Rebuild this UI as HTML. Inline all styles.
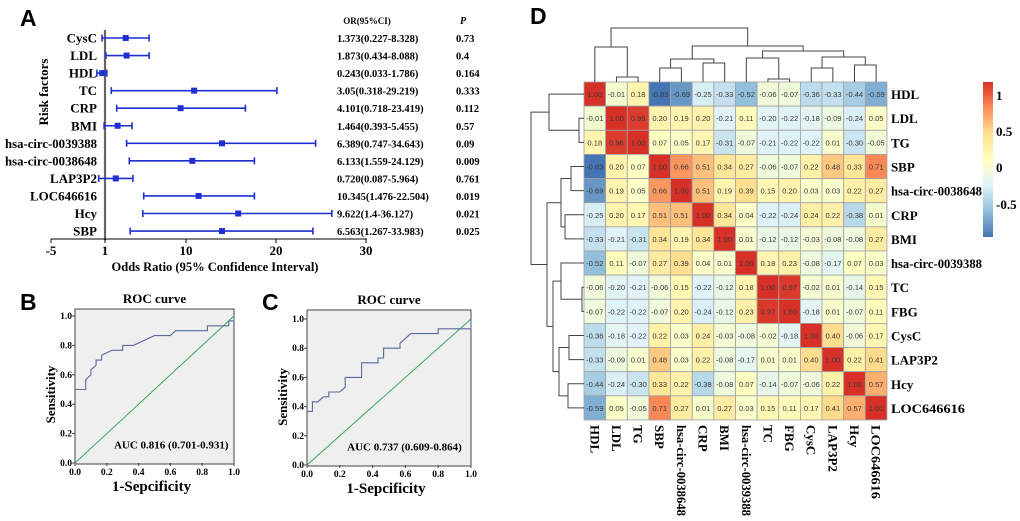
<!DOCTYPE html>
<html><head><meta charset="utf-8">
<style>
html,body{margin:0;padding:0;background:#fff;}
svg{display:block;}
.s{font-family:"Liberation Serif",serif;font-weight:bold;}
.p{font-family:"Liberation Sans",sans-serif;font-weight:bold;font-size:23px;}
</style></head>
<body>
<svg id="fig" width="1020" height="521" viewBox="0 0 1020 521" xmlns="http://www.w3.org/2000/svg">
<text class="p" x="20" y="26">A</text>
<text class="p" x="20" y="310">B</text>
<text class="p" x="262" y="310">C</text>
<text class="p" x="530" y="24">D</text>
<g id="forest"></g>
<g id="rocB"></g>
<g id="rocC"></g>
<g id="heat"></g>
</svg>
<script>
// ---------- Forest data ----------
const factors = ["CysC","LDL","HDL","TC","CRP","BMI","hsa-circ-0039388","hsa-circ-0038648","LAP3P2","LOC646616","Hcy","SBP"];
const orPoint = [3.3,3.4,0.7,10.9,9.4,2.4,14.0,10.7,2.2,11.4,15.8,14.0];
const orLow = [0.67,1.1,0.1,1.7,2.3,0.9,3.4,3.7,0.3,5.3,5.2,3.8];
const orHigh = [5.9,5.9,1.2,20.1,16.6,4.0,24.4,17.6,4.1,17.6,26.2,24.1];
const orText = ["1.373(0.227-8.328)","1.873(0.434-8.088)","0.243(0.033-1.786)","3.05(0.318-29.219)","4.101(0.718-23.419)","1.464(0.393-5.455)","6.389(0.747-34.643)","6.133(1.559-24.129)","0.720(0.087-5.964)","10.345(1.476-22.504)","9.622(1.4-36.127)","6.563(1.267-33.983)"];
const pText = ["0.73","0.4","0.164","0.333","0.112","0.57","0.09","0.009","0.761","0.019","0.021","0.025"];
const forestTicks = [-5,1,10,20,30];

// ---------- ROC data ----------
const rocBx = [0,0.067,0.067,0.1,0.1,0.133,0.133,0.167,0.167,0.233,0.3,0.3,0.367,0.5,0.6,0.633,0.833,0.833,0.967,0.967,1,1];
const rocBy = [0.5,0.5,0.567,0.6,0.633,0.667,0.7,0.7,0.733,0.767,0.767,0.8,0.8,0.867,0.867,0.9,0.9,0.933,0.933,0.967,0.967,1];
const rocCx = [0,0.033,0.033,0.067,0.1,0.133,0.133,0.2,0.233,0.233,0.333,0.333,0.433,0.433,0.467,0.467,0.567,0.567,0.633,0.8,0.8,1,1];
const rocCy = [0.367,0.367,0.433,0.433,0.467,0.467,0.5,0.5,0.533,0.6,0.6,0.7,0.7,0.733,0.733,0.8,0.8,0.833,0.9,0.9,0.933,0.933,1];
const rocTicks = [0,0.2,0.4,0.6,0.8,1.0];

// ---------- Heatmap data ----------
const vars = ["HDL","LDL","TG","SBP","hsa-circ-0038648","CRP","BMI","hsa-circ-0039388","TC","FBG","CysC","LAP3P2","Hcy","LOC646616"];
const r0 = [1,-0.01,0.18,-0.83,-0.69,-0.25,-0.33,-0.52,-0.06,-0.07,-0.36,-0.33,-0.44,-0.59];
const r1 = [-0.01,1,0.96,0.20,0.19,0.20,-0.21,0.11,-0.20,-0.22,-0.18,-0.09,-0.24,0.05];
const r2 = [0.18,0.96,1,0.07,0.05,0.17,-0.31,-0.07,-0.21,-0.22,-0.22,0.01,-0.30,-0.05];
const r3 = [-0.83,0.20,0.07,1,0.66,0.51,0.34,0.27,-0.06,-0.07,0.22,0.48,0.33,0.71];
const r4 = [-0.69,0.19,0.05,0.66,1,0.51,0.19,0.39,0.15,0.20,0.03,0.03,0.22,0.27];
const r5 = [-0.25,0.20,0.17,0.51,0.51,1,0.34,0.04,-0.22,-0.24,0.24,0.22,-0.38,0.01];
const r6 = [-0.33,-0.21,-0.31,0.34,0.19,0.34,1,0.01,-0.12,-0.12,-0.03,-0.08,-0.08,0.27];
const r7 = [-0.52,0.11,-0.07,0.27,0.39,0.04,0.01,1,0.18,0.23,-0.08,-0.17,0.07,0.03];
const r8 = [-0.06,-0.20,-0.21,-0.06,0.15,-0.22,-0.12,0.18,1,0.97,-0.02,0.01,-0.14,0.15];
const r9 = [-0.07,-0.22,-0.22,-0.07,0.20,-0.24,-0.12,0.23,0.97,1,-0.18,0.01,-0.07,0.11];
const r10 = [-0.36,-0.18,-0.22,0.22,0.03,0.24,-0.03,-0.08,-0.02,-0.18,1,0.40,-0.06,0.17];
const r11 = [-0.33,-0.09,0.01,0.48,0.03,0.22,-0.08,-0.17,0.01,0.01,0.40,1,0.22,0.41];
const r12 = [-0.44,-0.24,-0.30,0.33,0.22,-0.38,-0.08,0.07,-0.14,-0.07,-0.06,0.22,1,0.57];
const r13 = [-0.59,0.05,-0.05,0.71,0.27,0.01,0.27,0.03,0.15,0.11,0.17,0.41,0.57,1];
const corr = [r0,r1,r2,r3,r4,r5,r6,r7,r8,r9,r10,r11,r12,r13];
const cbTicks = [1,0.5,0,-0.5];

const NS="http://www.w3.org/2000/svg";
function mk(parent,tag,attrs,txt){const e=document.createElementNS(NS,tag);for(const k in attrs)e.setAttribute(k,attrs[k]);if(txt!==undefined)e.textContent=txt;parent.appendChild(e);return e;}

// ===== Forest =====
(function(){
  const g=document.getElementById('forest');
  const X=v=>105+(v-1)*9;
  const Y=i=>38+i*17.55;
  mk(g,'line',{x1:X(1),x2:X(1),y1:30,y2:240,stroke:'#666','stroke-width':2.2});
  const ax=mk(g,'line',{x1:51,x2:367,y1:239,y2:239,stroke:'#000','stroke-width':1});
  
  
  forestTicks.forEach(t=>{
    mk(g,'line',{x1:X(t),x2:X(t),y1:239,y2:243,stroke:'#000'});
    const tl=mk(g,'text',{x:X(t),y:255,'text-anchor':'middle','font-size':13,class:'s'},String(t));
    
    
  });
  const xt=mk(g,'text',{x:215,y:271,'text-anchor':'middle','font-size':12.5,class:'s'},'Odds Ratio (95% Confidence Interval)');
  
  
  const yt=mk(g,'text',{x:0,y:0,'text-anchor':'middle','font-size':13,class:'s',transform:'translate(48,92) rotate(-90)'},'Risk factors');
  
  
  const h1=mk(g,'text',{x:367,y:24,'text-anchor':'middle','font-size':9,class:'s'},'OR(95%CI)');
  
  
  const h2=mk(g,'text',{x:460,y:24,'font-size':10,class:'s','font-style':'italic'},'P');
  
  
  factors.forEach((f,i)=>{
    const y=Y(i);
    const at={x:97,y:y+4.5,'text-anchor':'end','font-size':13,class:'s'};
    if(f.length>12){at.textLength=92;at.lengthAdjust='spacingAndGlyphs';}
    if(f==='LOC646616'){at.textLength=67;at.lengthAdjust='spacingAndGlyphs';}
    const lb=mk(g,'text',at,f);
    
    
    const ci=mk(g,'g',{stroke:'#1f2fd0','stroke-width':1.6});
    
    
    mk(ci,'line',{x1:X(orLow[i]),x2:X(orHigh[i]),y1:y,y2:y});
    mk(ci,'line',{x1:X(orLow[i]),x2:X(orLow[i]),y1:y-3.5,y2:y+3.5});
    mk(ci,'line',{x1:X(orHigh[i]),x2:X(orHigh[i]),y1:y-3.5,y2:y+3.5});
    const pt=mk(g,'rect',{x:X(orPoint[i])-3,y:y-3,width:6,height:6,fill:'#1f2fd0'});
    
    
    const ot=mk(g,'text',{x:337,y:y+4,'font-size':10.5,class:'s'},orText[i]);
    
    
    const pv=mk(g,'text',{x:456,y:y+4,'font-size':10.5,class:'s'},pText[i]);
    
    
  });
})();

// ===== ROC =====
function roc(id,x0,x1,y0,y1,top,xs,ys,auc){
  const g=document.getElementById(id);
  const X=v=>x0+v*(x1-x0), Y=v=>y0-v*(y0-y1);
  const bx=mk(g,'rect',{x:x0,y:top,width:x1-x0,height:y0-top+1,fill:'#efefef',stroke:'#444','stroke-width':1});
  
  
  const t=mk(g,'text',{x:(x0+x1)/2,y:top-6,'text-anchor':'middle','font-size':13,class:'s'},'ROC curve');
  
  
  rocTicks.forEach(v=>{
    mk(g,'line',{x1:x0-3,x2:x0,y1:Y(v),y2:Y(v),stroke:'#444'});
    mk(g,'line',{x1:X(v),x2:X(v),y1:y0,y2:y0+3,stroke:'#444'});
    const a=mk(g,'text',{x:x0-3,y:Y(v)+3,'text-anchor':'end','font-size':9.5,class:'s'},v.toFixed(1));
    
    
    const b=mk(g,'text',{x:X(v),y:y0+12,'text-anchor':'middle','font-size':9.5,class:'s'},v.toFixed(1));
    
    
  });
  const xl=mk(g,'text',{x:(x0+x1)/2-3,y:y0+28,'text-anchor':'middle','font-size':15,class:'s'},'1-Sepcificity');
  
  
  const yl=mk(g,'text',{x:0,y:0,'text-anchor':'middle','font-size':13,class:'s',transform:`translate(${x0-20},${(y0+y1)/2+5}) rotate(-90)`},'Sensitivity');
  
  
  const d=mk(g,'line',{x1:X(0),y1:Y(0),x2:X(1),y2:Y(1),stroke:'#3aa85a','stroke-width':1});
  
  
  const pts=xs.map((v,i)=>X(v).toFixed(1)+','+Y(ys[i]).toFixed(1)).join(' ');
  const c=mk(g,'polyline',{points:pts,fill:'none',stroke:'#5b6a9c','stroke-width':1.1});
  
  
  const au=mk(g,'text',{x:X(0.245),y:Y(0.1),'font-size':11,class:'s'},auc);
  
  
}
roc('rocB',75,234,463,316,309,rocBx,rocBy,'AUC 0.816 (0.701-0.931)');
roc('rocC',307,471,465,319,310,rocCx,rocCy,'AUC 0.737 (0.609-0.864)');

// ===== Heatmap =====
(function(){
  const g=document.getElementById('heat');
  const gx=584, gy=82, cw=21.64, ch=24.14, n=vars.length;
  const pal=[[69,117,180],[145,191,219],[224,243,248],[255,255,191],[254,224,144],[252,141,89],[215,48,39]];
  const vmin=-0.83,vmax=1;
  function col(v){let t=(v-vmin)/(vmax-vmin);t=Math.max(0,Math.min(1,t))*(pal.length-1);const i=Math.min(pal.length-2,Math.floor(t)),f=t-i;const a=pal[i],b=pal[i+1];return `rgb(${a.map((c,k)=>Math.round(c+(b[k]-c)*f)).join(',')})`;}
  corr.forEach((row,r)=>row.forEach((v,c)=>{
    const rc=mk(g,'rect',{x:gx+c*cw,y:gy+r*ch,width:cw,height:ch,fill:col(v),stroke:'#a0a0a0','stroke-width':0.8});
    
    
    mk(g,'text',{x:gx+c*cw+cw/2,y:gy+r*ch+ch/2+3,'text-anchor':'middle','font-size':7.6,'font-family':'Liberation Sans, sans-serif',fill:'#3a3a3a'},v.toFixed(2));
  }));
  vars.forEach((v,i)=>{
    const at={x:gx+n*cw+4,y:gy+i*ch+ch/2+5,'font-size':13,class:'s'};
    if(v.length>12){at.textLength=91;at.lengthAdjust='spacingAndGlyphs';}
    if(v==='LOC646616'){at.textLength=74;at.lengthAdjust='spacingAndGlyphs';}
    const rl=mk(g,'text',at,v);
    
    
    const cx=gx+i*cw+cw/2;
    const ca={x:0,y:0,'font-size':13,class:'s',transform:`translate(${cx-4.5},${gy+n*ch+5}) rotate(90)`};
    if(v.length>12){ca.textLength=91;ca.lengthAdjust='spacingAndGlyphs';}
    if(v==='LOC646616'){ca.textLength=74;ca.lengthAdjust='spacingAndGlyphs';}
    const cl=mk(g,'text',ca,v);
    
    
  });
  // dendrograms (tree structure shared by rows/cols)
  const merges=[[1,2,77,579],[0,'m0',47,549],[3,4,68,571],[5,6,63,565],['m2','m3',59,561],[8,9,79,582],[7,'m5',58,561],[10,11,68,569],[12,13,65,568],['m7','m8',57,559],['m6','m9',51,553],['m4','m10',46,547],['m1','m11',28,531]];
  const tp={},lp={};
  for(let i=0;i<n;i++){tp[i]={x:gx+i*cw+cw/2,h:gy};lp[i]={y:gy+i*ch+ch/2,h:gx};}
  const dg=mk(g,'g',{stroke:'#444','stroke-width':1,fill:'none'});
  
  
  merges.forEach((m,k)=>{
    const a=tp[m[0]],b=tp[m[1]],h=m[2];
    mk(dg,'polyline',{points:`${a.x},${a.h} ${a.x},${h} ${b.x},${h} ${b.x},${b.h}`});
    tp['m'+k]={x:(a.x+b.x)/2,h:h};
    const c=lp[m[0]],d=lp[m[1]],w=m[3];
    mk(dg,'polyline',{points:`${c.h},${c.y} ${w},${c.y} ${w},${d.y} ${d.h},${d.y}`});
    lp['m'+k]={y:(c.y+d.y)/2,h:w};
  });
  // colorbar
  const defs=mk(g,'defs',{});
  const lg=mk(defs,'linearGradient',{id:'cbg',x1:0,y1:1,x2:0,y2:0});
  pal.forEach((p,i)=>mk(lg,'stop',{offset:i/(pal.length-1),'stop-color':`rgb(${p.join(',')})`}));
  const cb=mk(g,'rect',{x:983,y:82,width:10,height:155,fill:'url(#cbg)'});
  
  
  const cbY=v=>168-v*72+ (v<0? -2*v:0);
  cbTicks.forEach(t=>{
    const tl=mk(g,'text',{x:996,y:cbY(t)+4,'font-size':13,class:'s','font-weight':'normal'},String(t));
    
    
  });
})();
</script>
</body></html>
